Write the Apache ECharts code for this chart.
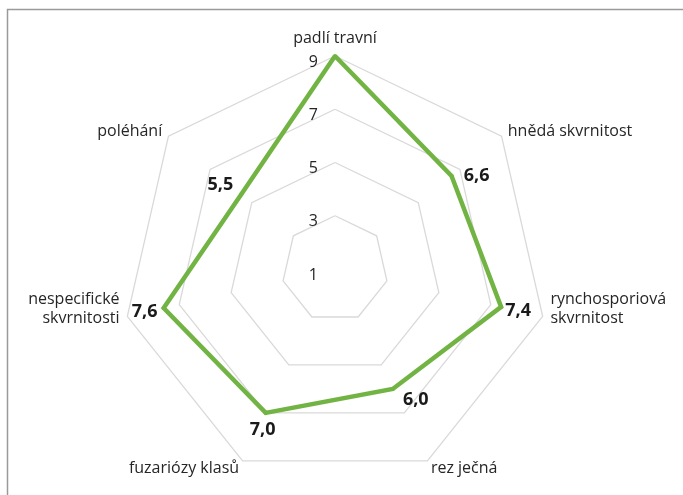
<!doctype html>
<html lang="cs">
<head>
    <meta charset="UTF-8">
    <title>radar</title>
    <style>
        html, body { margin: 0; padding: 0; background: #fff; }
    </style>
</head>
<body>
<div id="myChart" style="width: 683px;height: 495px"></div>
<script src="https://cdn.jsdelivr.net/npm/echarts@6/dist/echarts.min.js"></script>
<script>
    // categories clockwise from the top, as in the picture
    var categories = ['padlí travní', 'hnědá skvrnitost', 'rynchosporiová\nskvrnitost', 'rez ječná',
        'fuzariózy klasů', 'nespecifické\nskvrnitosti', 'poléhání'];
    var values = [9, 6.6, 7.4, 6.0, 7.0, 7.6, 5.5];
    var axisMin = 1;
    var axisMax = 9;
    var tickStep = 2;

    // echarts lays indicators out counterclockwise, so walk the list backwards after the first
    var order = [0];
    for (var k = categories.length - 1; k > 0; k--) order.push(k);

    // where each value label sits relative to its point [dx, dy]
    var labelShift = [null, [25, 0], [17, 4], [23, 11], [-3, 17], [-19, 4], [-21, -9]];

    var rich = {};
    labelShift.forEach(function (s, i) {
        if (!s) return;
        rich['p' + i] = {
            fontFamily: 'Open Sans',
            fontWeight: 'bold',
            fontSize: 18,
            color: '#1a1a1a',
            padding: [s[1] > 0 ? 2 * s[1] : 0, s[0] < 0 ? -2 * s[0] : 0, s[1] < 0 ? -2 * s[1] : 0, s[0] > 0 ? 2 * s[0] : 0]
        };
    });

    var myChart = echarts.init(document.getElementById('myChart'));

    var option = {
        backgroundColor: '#fff',
        animation: false,
        graphic: [{
            type: 'rect',
            shape: {x: 7.5, y: 9.5, width: 720, height: 520},
            style: {fill: 'none', stroke: '#9a9a9a', lineWidth: 1.5},
            silent: true,
            z: -10
        }],
        radar: {
            center: [335, 269],
            radius: 213,
            startAngle: 90,
            splitNumber: (axisMax - axisMin) / tickStep,
            shape: 'polygon',
            axisName: {
                color: '#262626',
                fontFamily: 'Open Sans',
                fontSize: 16,
                lineHeight: 19,
                formatter: function (name) {
                    // two-line names sit a little higher in the original
                    return name.indexOf('\n') >= 0 ? name + '\n' : name;
                }
            },
            nameGap: 8,
            axisLine: {show: false},
            axisTick: {show: false},
            splitArea: {show: false},
            splitLine: {lineStyle: {color: '#d9d9d9', width: 1.3}},
            axisLabel: {
                show: false,
                margin: 17,
                formatter: '{t|{value}}',
                rich: {
                    t: {
                        color: '#262626',
                        fontFamily: 'Open Sans',
                        fontSize: 16,
                        padding: [12, 0, 0, 0]
                    }
                }
            },
            indicator: order.map(function (i, n) {
                var ind = {name: categories[i], min: axisMin, max: axisMax};
                if (n === 0) ind.axisLabel = {show: true};
                return ind;
            })
        },
        series: [{
            type: 'radar',
            symbol: 'circle',
            symbolSize: 4,
            itemStyle: {color: '#72b443'},
            lineStyle: {color: '#72b443', width: 4.5, join: 'miter'},
            label: {
                show: true,
                position: 'inside',
                formatter: function (p) {
                    var i = values.indexOf(p.value);
                    if (!labelShift[i]) return '';
                    return '{p' + i + '|' + p.value.toFixed(1).replace('.', ',') + '}';
                },
                rich: rich
            },
            data: [{value: order.map(function (i) { return values[i]; })}]
        }]
    };

    myChart.setOption(option);
</script>
</body>
</html>
